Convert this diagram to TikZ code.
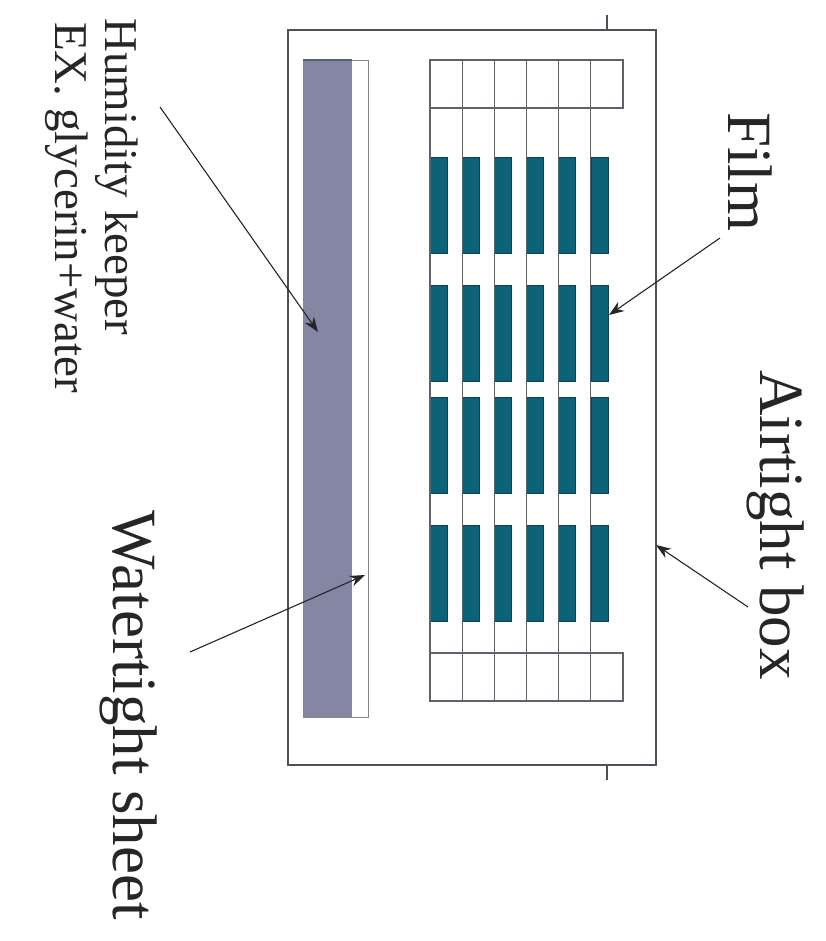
\documentclass[tikz,border=0pt]{standalone}
\usepackage{fontspec}
\setmainfont{Liberation Serif}
\usetikzlibrary{arrows.meta}
\definecolor{teal1}{RGB}{12,98,118}
\definecolor{keeper}{RGB}{132,134,164}
\definecolor{edge}{RGB}{80,80,90}
\tikzset{
  boxline/.style={draw=edge, line width=1.4pt},
  gridline/.style={draw=edge!90, line width=1.1pt},
  filmbar/.style={fill=teal1, draw=teal1!70!black, line width=0.6pt},
  pointer/.style={draw=black!85, line width=1.1pt, -{Stealth[length=15pt,width=11pt]}},
  small/.style={rotate=-90, anchor=base west, inner sep=0pt, font=\fontsize{47}{50}\selectfont, text=black!85},
  big/.style={rotate=-90, anchor=base west, inner sep=0pt, font=\fontsize{63}{66}\selectfont, text=black!85}
}
\begin{document}
\begin{tikzpicture}[x=1pt,y=-1pt]
\useasboundingbox[fill=white] (0,0) rectangle (825,941);
% airtight box
\draw[boxline] (288,30) rectangle (656,765);
\draw[boxline] (607,15) -- (607,30);
\draw[boxline] (607,765) -- (607,780);
% humidity keeper and watertight sheet
\fill[keeper] (303,60) rectangle (352,717);
\draw[draw=edge!70, line width=0.8pt] (303,60) rectangle (368,717);
\draw[draw=keeper!70!black, line width=1.2pt] (303,60) -- (352,60);
% grid cells
\foreach \i in {0,...,5} {
  \pgfmathsetmacro{\xl}{430+32.17*\i}
  \foreach \ya/\yb in {157/253,285/381,397/493,525/621} {
    \draw[filmbar] (\xl,\ya) rectangle (\xl+17,\yb);
  }
  \draw[gridline] (\xl,60) -- (\xl,701);
}
\draw[gridline] (430,60) rectangle (623,108);
\draw[gridline] (430,653) rectangle (623,701);
% labels
\node[small] (hk) at (105,18) {Humidity keeper};
\node[small] (ex) at (55,22) {EX. glycerin+water};
\node[big] (film) at (728,112) {Film};
\node[big] (air) at (760,370) {Airtight box};
\node[big] (ws) at (113,510) {Watertight sheet};
% arrow anchors
\coordinate (hks) at (160,107);
\coordinate (hkt) at (318,332);
\coordinate (wss) at (190,652);
\coordinate (wst) at (365,575);
\coordinate (fis) at (720,238);
\coordinate (fit) at (609,315);
\coordinate (abs) at (748,607);
\coordinate (abt) at (656,545);
\draw[pointer] (hks) -- (hkt);
\draw[pointer] (wss) -- (wst);
\draw[pointer] (fis) -- (fit);
\draw[pointer] (abs) -- (abt);
\end{tikzpicture}
\end{document}
